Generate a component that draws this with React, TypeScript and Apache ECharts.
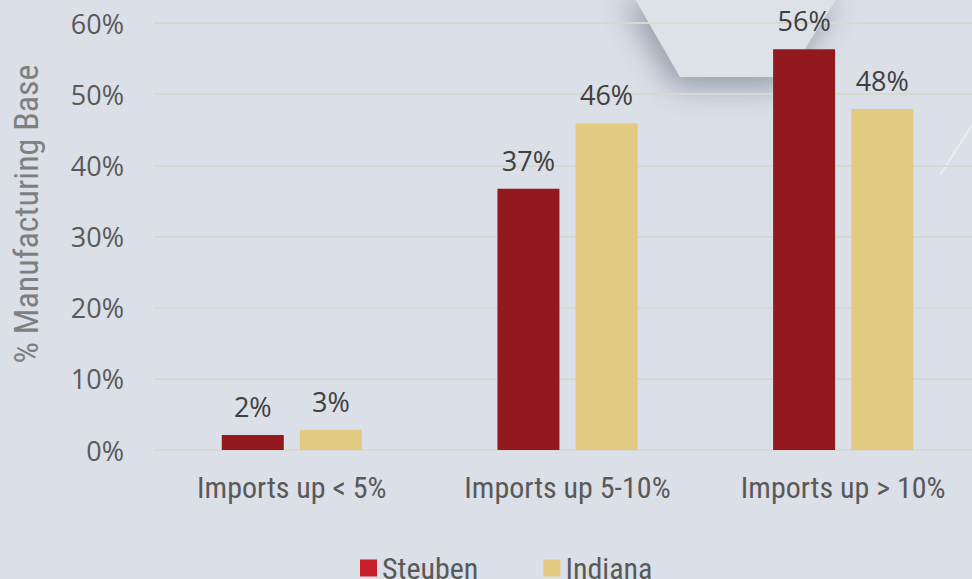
import React, { useEffect, useRef } from "react";
import * as echarts from "echarts";

const categories = ["Imports up < 5%", "Imports up 5-10%", "Imports up > 10%"];
const steuben = [2.1, 36.7, 56.3];
const indiana = [2.85, 45.9, 47.9];
const seriesNames = ["Steuben", "Indiana"];
const yAxisTitle = "% Manufacturing Base";
const yTicks = { min: 0, max: 60, interval: 10 };

const NARROW = '"Liberation Sans Narrow", "Arial Narrow", "Roboto Condensed", "Liberation Sans", sans-serif';
const SANS = '"Open Sans", "Noto Sans", sans-serif';

export default function App() {
  const ref = useRef<HTMLDivElement>(null);
  useEffect(() => {
    if (!ref.current) return;
    const chart = echarts.init(ref.current, undefined, { renderer: "svg" });
    const labelFmt = (p: any) => Math.round(p.value) + "%";
    chart.setOption({
      animation: false,
      backgroundColor: "#dbdfe7",
      graphic: [
        {
          type: "polygon",
          z: -10,
          silent: true,
          shape: { points: [[630, -10], [680, 77], [787, 77], [842, -10]] },
          style: {
            fill: "#dde1e8",
            shadowBlur: 30,
            shadowColor: "rgba(70,85,105,0.5)",
            shadowOffsetY: 10,
            shadowOffsetX: -6,
          },
        },
        {
          type: "line",
          z: -10,
          silent: true,
          shape: { x1: 940, y1: 175, x2: 972, y2: 125 },
          style: { stroke: "rgba(255,255,255,0.5)", lineWidth: 1.5 },
        },
        {
          type: "text",
          x: 26,
          y: 214,
          rotation: Math.PI / 2,
          silent: true,
          style: {
            text: yAxisTitle,
            fontFamily: NARROW,
            fontSize: 34,
            fill: "#7f7f7f",
            align: "center",
            verticalAlign: "middle",
          },
        },
      ],
      grid: { left: 154, width: 827, top: 23, height: 427, containLabel: false, outerBoundsMode: "none" },
      legend: {
        data: [
          { name: seriesNames[0], itemStyle: { color: "#c8202a" } },
          { name: seriesNames[1], itemStyle: { color: "#e3ca82" } },
        ],
        left: 355,
        top: 548,
        icon: "rect",
        itemWidth: 17,
        itemHeight: 17,
        itemGap: 65,
        textStyle: { fontFamily: NARROW, fontSize: 30, color: "#595959" },
      },
      xAxis: {
        type: "category",
        data: categories,
        axisLine: { show: false },
        axisTick: { show: false },
        axisLabel: { interval: 0, fontFamily: NARROW, fontSize: 30, color: "#595959", margin: 22 },
      },
      yAxis: {
        type: "value",
        min: yTicks.min,
        max: yTicks.max,
        interval: yTicks.interval,
        axisLine: { show: false },
        axisTick: { show: false },
        axisLabel: { formatter: "{value}%", fontFamily: SANS, fontSize: 27, color: "#595959", margin: 30 },
        splitLine: { lineStyle: { color: "#d8d8d3", width: 2 } },
      },
      series: [
        {
          name: seriesNames[0],
          type: "bar",
          data: steuben,
          barWidth: 62,
          barGap: "26%",
          itemStyle: { color: "#921a1f" },
          label: { show: true, position: "top", distance: 15, formatter: labelFmt, fontFamily: SANS, fontSize: 27, color: "#404040" },
        },
        {
          name: seriesNames[1],
          type: "bar",
          data: indiana,
          barWidth: 62,
          itemStyle: { color: "#e3ca82" },
          label: { show: true, position: "top", distance: 15, formatter: labelFmt, fontFamily: SANS, fontSize: 27, color: "#404040" },
        },
      ],
    });
    return () => chart.dispose();
  }, []);
  return (
    <div
      ref={ref}
      style={{ position: "fixed", left: 0, top: 0, width: 972, height: 579, background: "#dbdfe7" }}
    />
  );
}
